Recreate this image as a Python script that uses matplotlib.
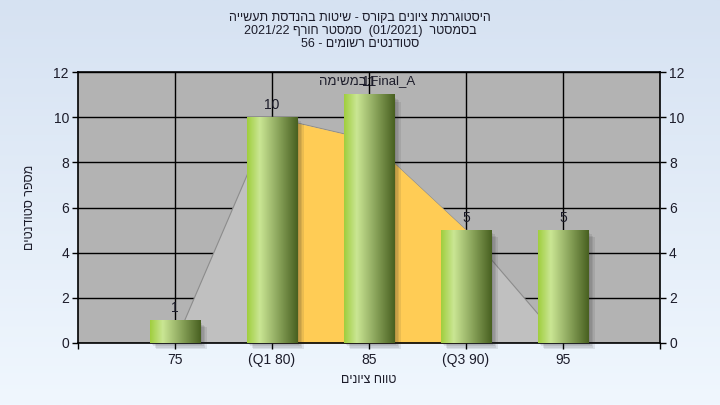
import numpy as np
import matplotlib.pyplot as plt
from matplotlib.patches import Rectangle, Polygon

# grade histogram data
categories = ["75", "(Q1 80)", "85", "(Q3 90)", "95"]
counts = [1, 10, 11, 5, 5]
curve = [0, 10, 9, 5, 0]          # background frequency shape
q1_idx, q3_idx = 1, 3             # orange band between Q1 and Q3

title_lines = [
    "היסטוגרמת ציונים בקורס - שיטות בהנדסת תעשייה",
    "בסמסטר  (01/2021)  סמסטר חורף 2021/22",
    "סטודנטים רשומים - 56",
]
xlabel = "טווח ציונים"
ylabel = "מספר סטודנטים"
series_word = "במשימה"
series_name = "Final_A"

FONT = ['Liberation Sans', 'DejaVu Sans']
plt.rcParams['font.family'] = FONT
TXT = '#1c1c2a'


def heb(s):
    """reverse hebrew text for left-to-right drawing"""
    out = []
    for t in reversed(s.split(' ')):
        if any('\u0590' <= c <= '\u05ff' for c in t):
            out.append(t[::-1])
        else:
            out.append(t)
    return ' '.join(out)


fig = plt.figure(figsize=(7.2, 4.05), dpi=100)

# light blue gradient background
bg = fig.add_axes([0, 0, 1, 1], zorder=-10)
top = np.array([214, 226, 242]) / 255
bot = np.array([240, 247, 254]) / 255
t = np.linspace(0, 1, 256)[:, None]
grad = top + (bot - top) * t
bg.imshow(grad[:, None, :], aspect='auto', extent=(0, 1, 0, 1))
bg.axis('off')

ax = fig.add_axes([78 / 720, 62 / 405, 582 / 720, 271 / 405])
ax.set_facecolor('#b3b3b3')

x = np.arange(1, len(categories) + 1)

# grid behind everything
for yy in range(0, 13, 2):
    ax.axhline(yy, color='black', lw=1.0, zorder=1)
for xx in x:
    ax.axvline(xx, color='black', lw=1.0, zorder=1)

# gray frequency shape and orange Q1-Q3 band
pts = list(zip(x, curve))
ax.add_patch(Polygon(pts, closed=True, facecolor='#c0c0c0',
                     edgecolor='#8c8c8c', lw=0.8, zorder=2))
xb = x[q1_idx:q3_idx + 1]
yb = curve[q1_idx:q3_idx + 1]
ax.fill_between(xb, 0, yb, color='#ffcc55', lw=0, zorder=2.5)

# cylinder-like bars
w = 0.52
stops = np.array([0.0, 0.25, 1.0])
cols = np.array([[160, 206, 62], [202, 230, 148], [72, 96, 32]]) / 255
gx = np.linspace(0, 1, 128)
bar_grad = np.stack([np.interp(gx, stops, cols[:, k]) for k in range(3)], axis=-1)
for xi, h in zip(x, counts):
    # soft shadow, a few faint layers
    for d in [0.065, 0.05, 0.035, 0.02]:
        ax.add_patch(Rectangle((xi - w / 2 + d, -d * 4), w, h - 0.05,
                               facecolor='#202020', alpha=0.09,
                               lw=0, zorder=2.8, clip_on=False))
    ax.imshow(bar_grad[None, :, :], aspect='auto',
              extent=(xi - w / 2, xi + w / 2, 0, h), zorder=3)
    ax.annotate(str(h), (xi, h), xytext=(0, 4), textcoords='offset points',
                ha='center', va='bottom', fontsize=10, color=TXT, zorder=5)

ax.text(2.98, 11.6, heb(series_word) + ":" + series_name, ha='center',
        va='center', fontsize=9.5, color=TXT, zorder=5)

ax.set_xlim(0, 6)
ax.set_ylim(0, 12)
ax.set_xticks(np.arange(0, 7))
ax.set_xticklabels([""] + categories + [""])
ax.set_yticks(range(0, 13, 2))
ax.tick_params(axis='x', length=4.5, width=1, pad=3, labelsize=10,
               labelcolor=TXT)
ax.tick_params(axis='y', length=4.5, width=1, pad=2, labelsize=10,
               labelcolor=TXT, right=True, labelright=True)
for sp in ax.spines.values():
    sp.set_color('black')
    sp.set_linewidth(1.2)

fig.text(369 / 720, 1 - 380 / 405, heb(xlabel), ha='center', va='center',
         fontsize=9, color=TXT)
fig.text(30 / 720, 1 - 207 / 405, heb(ylabel), ha='center', va='center',
         rotation=90, fontsize=9, color=TXT)

for i, line in enumerate(title_lines):
    fig.text(360 / 720, 1 - (18 + 13 * i) / 405, heb(line), ha='center',
             va='center', fontsize=9, color=TXT)

fig.savefig('out.png', dpi=100)
